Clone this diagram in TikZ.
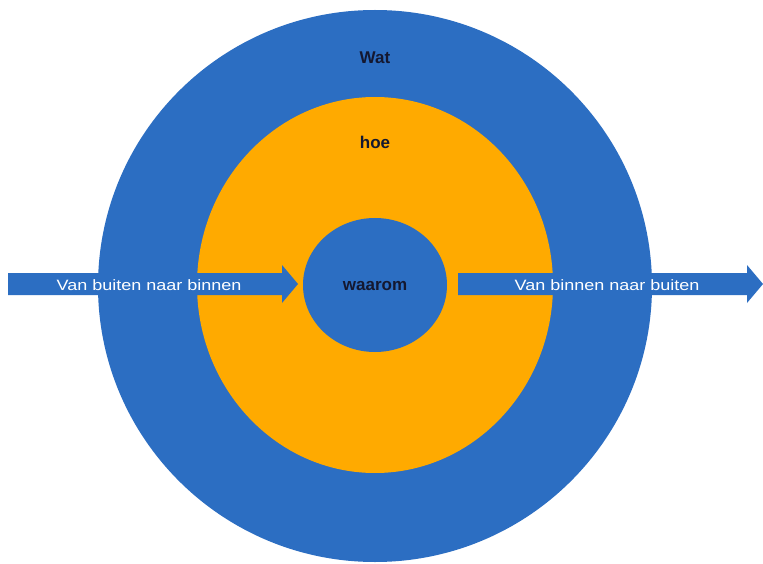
\documentclass[tikz,border=0pt]{standalone}
\usepackage{fontspec}
\setmainfont{Liberation Sans}
\usetikzlibrary{shapes.geometric}
\definecolor{ringblue}{RGB}{44,110,194}
\definecolor{ringorange}{RGB}{255,170,0}
\definecolor{labeldark}{RGB}{20,24,48}
\begin{document}
\begin{tikzpicture}[x=1pt,y=-1pt,
  disc/.style={ellipse, inner sep=0pt, draw=none},
  ringlabel/.style={font=\fontsize{17}{20}\selectfont\bfseries, text=labeldark, inner sep=0pt},
  arrowlabel/.style={font=\fontsize{15}{18}\selectfont, text=white, inner sep=0pt, xscale=1.2},
  blockarrow/.style={fill=ringblue, draw=none}]
\useasboundingbox (0,0) rectangle (763,564);
\fill[white] (0,0) rectangle (763,564);
\node[disc, fill=ringblue, minimum width=554pt, minimum height=552pt] (outer) at (375,286) {};
\node[disc, fill=ringorange, minimum width=356pt, minimum height=376pt] (middle) at (375,285) {};
\node[disc, fill=ringblue, minimum width=144pt, minimum height=134pt] (inner) at (375,285) {};
% left arrow
\coordinate (la1) at (8,273);
\fill[blockarrow] (8,273) -- (282,273) -- (282,265) -- (298,284) -- (282,303) -- (282,295) -- (8,295) -- cycle;
% right arrow
\fill[blockarrow] (458,273) -- (747,273) -- (747,265) -- (763,284) -- (747,303) -- (747,295) -- (458,295) -- cycle;
\node[arrowlabel] (intext) at (149,285) {Van buiten naar binnen};
\node[arrowlabel] (outtext) at (607,285) {Van binnen naar buiten};
\node[ringlabel] (wat) at (375,58) {Wat};
\node[ringlabel] (hoe) at (375,142) {hoe};
\node[ringlabel] (waarom) at (375,286) {waarom};
\end{tikzpicture}
\end{document}
